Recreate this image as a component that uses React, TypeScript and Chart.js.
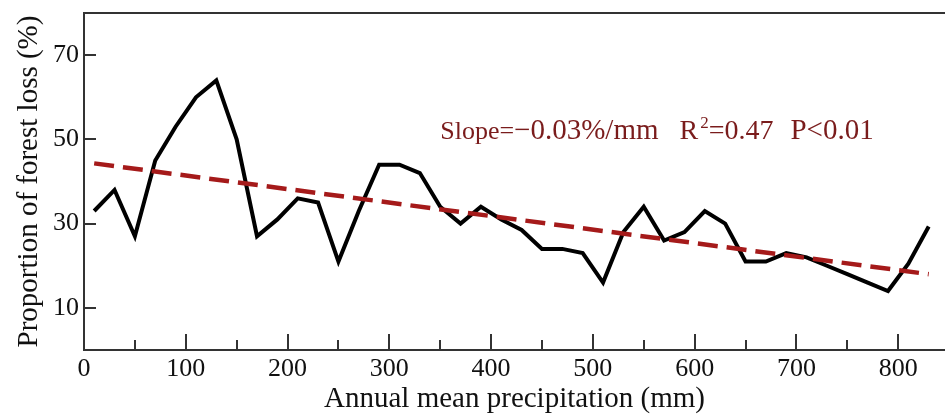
import React, { useEffect, useRef } from "react";
import { Chart, registerables } from "chart.js";

Chart.register(...registerables);

// ---- data ----
const precipitation = [
  10, 30, 50, 70, 90, 110, 130, 150, 170, 190, 210, 230, 250, 270, 290, 310,
  330, 350, 370, 390, 410, 430, 450, 470, 490, 510, 530, 550, 570, 590, 610,
  630, 650, 670, 690, 710, 730, 750, 770, 790, 810, 830,
];
const forestLoss = [
  33, 38, 27, 45, 53, 60, 64, 50, 27, 31, 36, 35, 21, 33, 44, 44,
  42, 34, 30, 34, 31, 28.5, 24, 24, 23, 16, 28, 34, 26, 28, 33,
  30, 21, 21, 23, 22, 20, 18, 16, 14, 20.5, 29.3,
];
const trendPrecip = [10, 830];
const trendLoss = [44.3, 18.0];

const xTickValues = [0, 100, 200, 300, 400, 500, 600, 700, 800];
const xMinorTickValues = [50, 150, 250, 350, 450, 550, 650, 750];
const yTickValues = [10, 30, 50, 70];

const xTitle = "Annual mean precipitation (mm)";
const yTitle = "Proportion of forest loss (%)";
const annotationAnchor = { x: 350, y: 50 };

const SERIF = '"Liberation Serif", "DejaVu Serif", serif';
const FRAME = "#333333";
const TEXT_RED = "#7a1c1c";
const TREND_RED = "#a51a1a";

const framePlugin = {
  id: "frameTicks",
  beforeDatasetsDraw(chart: any) {
    const { ctx, chartArea, scales } = chart;
    const { left, right, top, bottom } = chartArea;
    const x = scales.x;
    const y = scales.y;
    ctx.save();
    ctx.strokeStyle = FRAME;
    ctx.lineWidth = 2;
    ctx.lineCap = "butt";
    ctx.beginPath();
    ctx.moveTo(right + 2, top);
    ctx.lineTo(left, top);
    ctx.lineTo(left, bottom);
    ctx.lineTo(right + 2, bottom);
    ctx.stroke();
    ctx.beginPath();
    xTickValues.forEach((v) => {
      const px = Math.round(x.getPixelForValue(v));
      ctx.moveTo(px, bottom);
      ctx.lineTo(px, bottom - 16);
    });
    xMinorTickValues.forEach((v) => {
      const px = Math.round(x.getPixelForValue(v));
      ctx.moveTo(px, bottom);
      ctx.lineTo(px, bottom - 10);
    });
    yTickValues.forEach((v) => {
      const py = Math.round(y.getPixelForValue(v));
      ctx.moveTo(left, py);
      ctx.lineTo(left + 12, py);
    });
    ctx.stroke();
    ctx.restore();
  },
};

const annotationPlugin = {
  id: "slopeText",
  afterDatasetsDraw(chart: any) {
    const { ctx, scales } = chart;
    let px = scales.x.getPixelForValue(annotationAnchor.x);
    const base = scales.y.getPixelForValue(annotationAnchor.y);
    ctx.save();
    ctx.fillStyle = TEXT_RED;
    ctx.textBaseline = "alphabetic";
    ctx.textAlign = "left";
    const put = (txt: string, size: number, dy = 0, gapAfter = 0) => {
      ctx.font = `${size}px ${SERIF}`;
      ctx.fillText(txt, px, base + dy);
      px += ctx.measureText(txt).width + gapAfter;
    };
    put("Slope=", 26);
    put("\u2212", 29);
    put("0.03%/mm", 29, 0, 21);
    put("R", 28, 0, 2);
    put("2", 17, -11, 0);
    put("=0.47", 28, 0, 17);
    put("P<0.01", 29);
    ctx.restore();
  },
};

export default function App() {
  const canvasRef = useRef<HTMLCanvasElement | null>(null);

  useEffect(() => {
    document.body.style.margin = "0";
    const canvas = canvasRef.current;
    if (!canvas) return;
    const chart = new Chart(canvas, {
      type: "scatter",
      data: {
        datasets: [
          {
            label: "Trend",
            data: trendPrecip.map((p, i) => ({ x: p, y: trendLoss[i] })),
            showLine: true,
            borderColor: TREND_RED,
            borderWidth: 4.5,
            borderDash: [20, 9],
            pointRadius: 0,
            fill: false,
          },
          {
            label: "Forest loss",
            data: precipitation.map((p, i) => ({ x: p, y: forestLoss[i] })),
            showLine: true,
            borderColor: "#000000",
            borderWidth: 4,
            borderJoinStyle: "miter",
            pointRadius: 0,
            fill: false,
            tension: 0,
          },
        ],
      },
      options: {
        animation: false,
        responsive: false,
        maintainAspectRatio: false,
        devicePixelRatio: 1,
        layout: { padding: { top: 13, right: 0, bottom: 0, left: 0 } },
        plugins: {
          legend: { display: false },
          tooltip: { enabled: false },
        },
        scales: {
          x: {
            type: "linear",
            min: 0,
            max: 846,
            grid: { display: false, drawTicks: false },
            border: { display: false },
            afterBuildTicks: (s: any) => {
              s.ticks = xTickValues.map((v) => ({ value: v }));
            },
            afterFit: (s: any) => {
              s.height = 67;
              s.paddingLeft = 0;
              s.paddingRight = 0;
            },
            ticks: {
              autoSkip: false,
              maxRotation: 0,
              padding: 4,
              color: "#111111",
              font: { family: SERIF, size: 26 },
            },
            title: {
              display: true,
              text: xTitle,
              color: "#111111",
              font: { family: SERIF, size: 29 },
              padding: { top: 0, bottom: 0 },
            },
          },
          y: {
            type: "linear",
            min: 0,
            max: 80,
            grid: { display: false, drawTicks: false },
            border: { display: false },
            afterBuildTicks: (s: any) => {
              s.ticks = yTickValues.map((v) => ({ value: v }));
            },
            afterFit: (s: any) => {
              s.width = 84;
              s.paddingTop = 0;
              s.paddingBottom = 0;
            },
            ticks: {
              autoSkip: false,
              padding: 5,
              color: "#111111",
              font: { family: SERIF, size: 26 },
            },
            title: {
              display: true,
              text: yTitle,
              color: "#111111",
              font: { family: SERIF, size: 29 },
              padding: { top: 12, bottom: 0 },
            },
          },
        },
      },
      plugins: [framePlugin, annotationPlugin],
    } as any);
    return () => chart.destroy();
  }, []);

  return (
    <div style={{ width: 945, height: 417, background: "#ffffff" }}>
      <canvas ref={canvasRef} width={945} height={417} style={{ display: "block" }} />
    </div>
  );
}
